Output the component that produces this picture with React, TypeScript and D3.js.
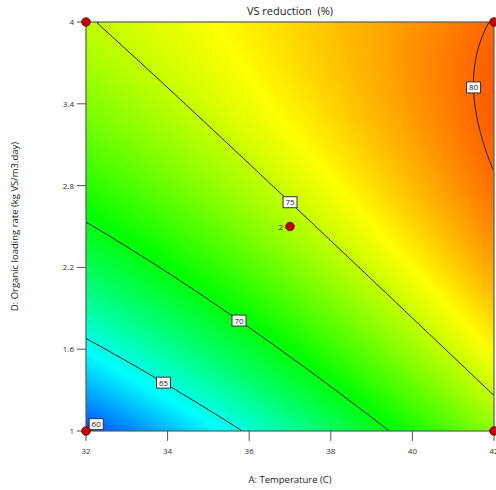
import React, { useMemo } from "react";
import * as d3 from "d3";

// ---- data ----
const TEMP_DOMAIN = [32, 42];
const OLR_DOMAIN = [1, 4];
const X_TICKS = [32, 34, 36, 38, 40, 42];
const Y_TICKS = [1, 1.6, 2.2, 2.8, 3.4, 4];
const Y_TICK_LABELS = ["1", "1.6", "2.2", "2.8", "3.4", "4"];
// quadratic response model in coded units: b0, A, D, AD, A^2, D^2
const MODEL_COEFS = [74.4, 4.74, 5.35, -2.15, 0.18, -2.45];
const CONTOUR_LEVELS = [60, 65, 70, 75, 80];
const LABEL_TEMPS: (number | null)[] = [32.25, 33.9, 35.75, 37, null];
const LABEL_OLRS: (number | null)[] = [1.05, null, null, null, 3.52];
const DESIGN_TEMPS = [32, 32, 42, 42, 37];
const DESIGN_OLRS = [1, 4, 4, 1, 2.5];
const DESIGN_COUNTS = [1, 1, 1, 1, 2];
const COLOR_STOPS = [58.2, 64.3, 70.3, 76.4, 82.5];
const COLOR_RANGE = ["#0000ff", "#00ffff", "#00ff00", "#ffff00", "#ff0000"];

const TITLE = "VS reduction\u00a0\u00a0(%)";
const X_LABEL = "A: Temperature (C)";
const Y_LABEL = "D: Organic loading rate (kg VS/m3.day)";

// ---- layout ----
const WIDTH = 496;
const HEIGHT = 490;
const LEFT = 86;
const RIGHT = 494;
const TOP = 22;
const BOTTOM = 431;
const FONT = "'Open Sans', 'DejaVu Sans', sans-serif";

function model(T: number, D: number): number {
  const a = (T - 37) / 5;
  const d = (D - 2.5) / 1.5;
  const [b0, b1, b2, b12, b11, b22] = MODEL_COEFS;
  return b0 + b1 * a + b2 * d + b12 * a * d + b11 * a * a + b22 * d * d;
}

function bisect(fn: (v: number) => number, lo: number, hi: number): number {
  let flo = fn(lo);
  for (let k = 0; k < 60; k++) {
    const mid = (lo + hi) / 2;
    const fm = fn(mid);
    if (Math.sign(fm) === Math.sign(flo)) {
      lo = mid;
      flo = fm;
    } else hi = mid;
  }
  return (lo + hi) / 2;
}

export default function App() {
  const x = d3.scaleLinear().domain(TEMP_DOMAIN).range([LEFT, RIGHT]);
  const y = d3.scaleLinear().domain(OLR_DOMAIN).range([BOTTOM, TOP]);
  const color = d3
    .scaleLinear<string>()
    .domain(COLOR_STOPS)
    .range(COLOR_RANGE)
    .interpolate(d3.interpolateRgb)
    .clamp(true);

  const W = RIGHT - LEFT;
  const H = BOTTOM - TOP;

  const imageUrl = useMemo(() => {
    const canvas = document.createElement("canvas");
    canvas.width = W;
    canvas.height = H;
    const ctx = canvas.getContext("2d")!;
    const img = ctx.createImageData(W, H);
    for (let py = 0; py < H; py++) {
      const D = y.invert(TOP + py + 0.5);
      for (let px = 0; px < W; px++) {
        const T = x.invert(LEFT + px + 0.5);
        const c = d3.rgb(color(model(T, D)));
        const idx = (py * W + px) * 4;
        img.data[idx] = c.r;
        img.data[idx + 1] = c.g;
        img.data[idx + 2] = c.b;
        img.data[idx + 3] = 255;
      }
    }
    ctx.putImageData(img, 0, 0);
    return canvas.toDataURL();
  }, []);

  const contourPaths = useMemo(() => {
    const nx = W / 2;
    const ny = Math.round(H / 2);
    const values = new Array(nx * ny);
    for (let j = 0; j < ny; j++) {
      const D = y.invert(TOP + ((j + 0.5) * H) / ny);
      for (let i = 0; i < nx; i++) {
        const T = x.invert(LEFT + ((i + 0.5) * W) / nx);
        values[j * nx + i] = model(T, D);
      }
    }
    const gen = d3.contours().size([nx, ny]).thresholds(CONTOUR_LEVELS);
    const cs = gen(values);
    const onEdge = (a: number[], b: number[]) =>
      (a[0] === 0 && b[0] === 0) ||
      (a[0] === nx && b[0] === nx) ||
      (a[1] === 0 && b[1] === 0) ||
      (a[1] === ny && b[1] === ny);
    const toPx = (p: number[]) => [LEFT + (p[0] / nx) * W, TOP + (p[1] / ny) * H];
    const paths: string[] = [];
    cs.forEach((c) => {
      c.coordinates.forEach((poly) => {
        poly.forEach((ring) => {
          let cur: number[][] = [];
          const lines: number[][][] = [];
          for (let k = 0; k < ring.length - 1; k++) {
            const a = ring[k];
            const b = ring[k + 1];
            if (onEdge(a, b)) {
              if (cur.length) lines.push(cur);
              cur = [];
            } else {
              if (!cur.length) cur.push(a);
              cur.push(b);
            }
          }
          if (cur.length) lines.push(cur);
          lines.forEach((ln) => {
            const line = d3.line()(ln.map(toPx) as [number, number][]);
            if (line) paths.push(line);
          });
        });
      });
    });
    return paths;
  }, []);

  const labels = CONTOUR_LEVELS.map((lv, i) => {
    let T = LABEL_TEMPS[i];
    let D = LABEL_OLRS[i];
    if (T !== null && D === null) {
      const TT = T;
      D = bisect((v) => model(TT, v) - lv, OLR_DOMAIN[0], OLR_DOMAIN[1]);
    } else if (D !== null && T === null) {
      const DD = D;
      T = bisect((v) => model(v, DD) - lv, 37, TEMP_DOMAIN[1]);
    }
    return { level: lv, px: x(T as number), py: y(D as number) };
  });

  return (
    <div style={{ position: "absolute", left: 0, top: 0 }}>
      <svg width={WIDTH} height={HEIGHT} style={{ display: "block", background: "#fff" }}>
        <defs>
          <clipPath id="plotClip">
            <rect x={LEFT} y={TOP} width={W} height={H} />
          </clipPath>
        </defs>
        <image href={imageUrl} x={LEFT} y={TOP} width={W} height={H} preserveAspectRatio="none" />
        <g clipPath="url(#plotClip)">
          {contourPaths.map((d, i) => (
            <path key={i} d={d} fill="none" stroke="#1a1a1a" strokeWidth={1} />
          ))}
        </g>
        <rect x={LEFT} y={TOP} width={W} height={H} fill="none" stroke="#5a5a5a" strokeWidth={1.2} />

        {/* contour labels */}
        {labels.map((l) => (
          <g key={l.level}>
            <rect
              x={l.px - 7}
              y={l.py - 5.5}
              width={14}
              height={11}
              fill="#fff"
              stroke="#333"
              strokeWidth={1}
            />
            <text
              x={l.px}
              y={l.py + 3}
              textAnchor="middle"
              fontFamily={FONT}
              fontSize={8}
              fill="#222"
            >
              {l.level}
            </text>
          </g>
        ))}

        {/* x axis */}
        {X_TICKS.map((t) => (
          <g key={t}>
            <line x1={x(t)} x2={x(t)} y1={BOTTOM} y2={BOTTOM + 10} stroke="#555" strokeWidth={1} />
            <text x={x(t)} y={BOTTOM + 23} textAnchor="middle" fontFamily={FONT} fontSize={8} fill="#333">
              {t}
            </text>
          </g>
        ))}
        {/* y axis */}
        {Y_TICKS.map((t, i) => (
          <g key={t}>
            <line x1={LEFT - 9} x2={LEFT} y1={y(t)} y2={y(t)} stroke="#555" strokeWidth={1} />
            <text x={LEFT - 12} y={y(t) + 3} textAnchor="end" fontFamily={FONT} fontSize={8} fill="#333">
              {Y_TICK_LABELS[i]}
            </text>
          </g>
        ))}

        {/* design points */}
        {DESIGN_TEMPS.map((t, i) => (
          <g key={i}>
            <circle cx={x(t)} cy={y(DESIGN_OLRS[i])} r={4.3} fill="#c40000" stroke="#5a0000" strokeWidth={0.8} />
            {DESIGN_COUNTS[i] > 1 && (
              <text
                x={x(t) - 7}
                y={y(DESIGN_OLRS[i]) + 3}
                textAnchor="end"
                fontFamily={FONT}
                fontSize={8}
                fill="#333"
              >
                {DESIGN_COUNTS[i]}
              </text>
            )}
          </g>
        ))}

        {/* titles */}
        <text x={(LEFT + RIGHT) / 2} y={15} textAnchor="middle" fontFamily={FONT} fontSize={11} fill="#222">
          {TITLE}
        </text>
        <text x={(LEFT + RIGHT) / 2} y={483} textAnchor="middle" fontFamily={FONT} fontSize={9.5} fill="#222">
          {X_LABEL}
        </text>
        <text
          transform={`translate(18, ${(TOP + BOTTOM) / 2}) rotate(-90)`}
          textAnchor="middle"
          fontFamily={FONT}
          fontSize={9.5}
          fill="#222"
        >
          {Y_LABEL}
        </text>
      </svg>
    </div>
  );
}
